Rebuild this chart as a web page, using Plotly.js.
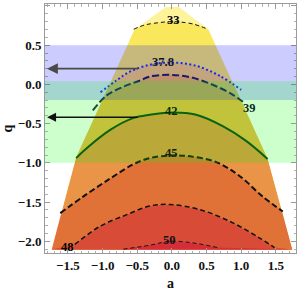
<!DOCTYPE html>
<html><head><meta charset="utf-8">
<script src="https://cdn.plot.ly/plotly-3.0.1.min.js"></script>
<style>html,body{margin:0;padding:0;background:#fff}#c{width:300px;height:291px}</style>
</head><body><div id="c"></div>
<script>
// Region boundary (coarse polygon)
const boundaryA = [-1.734, -1.384, -0.535, -0.089, 0.102, 0.53, 1.383, 1.738];
const boundaryQ = [-2.104, -0.934, 0.707, 0.987, 0.987, 0.704, -0.95, -2.104];

// Contour curves
const c33A  = [-0.55, -0.39, -0.18, -0.03, 0.11, 0.30, 0.52];
const c33Q  = [0.704, 0.758, 0.788, 0.800, 0.796, 0.771, 0.704];
const c378A = [-1.03, -0.80, -0.61, -0.32, 0.02, 0.35, 0.69, 1.00];
const c378Q = [-0.10, 0.05, 0.16, 0.25, 0.279, 0.237, 0.109, -0.07];
const c39A  = [-1.14, -0.94, -0.70, -0.46, -0.32, -0.03, 0.26, 0.59, 0.88, 1.05];
const c39Q  = [-0.33, -0.14, -0.03, 0.05, 0.10, 0.122, 0.093, -0.005, -0.132, -0.238];
const c42A  = [-1.38, -1.25, -0.89, -0.56, -0.32, 0.02, 0.35, 0.74, 1.07, 1.38];
const c42Q  = [-0.94, -0.83, -0.58, -0.43, -0.387, -0.357, -0.387, -0.535, -0.72, -0.95];
const c45A  = [-1.61, -1.28, -0.89, -0.56, -0.32, 0.00, 0.26, 0.64, 0.98, 1.31, 1.60];
const c45Q  = [-1.64, -1.43, -1.20, -1.02, -0.94, -0.905, -0.917, -0.99, -1.17, -1.43, -1.62];
const c48A  = [-1.40, -1.04, -0.65, -0.32, -0.03, 0.40, 0.88, 1.26, 1.48];
const c48Q  = [-2.04, -1.81, -1.66, -1.55, -1.53, -1.595, -1.765, -1.955, -2.08];
const c50A  = [-0.70, -0.32, -0.03, 0.30, 0.66];
const c50Q  = [-2.10, -2.05, -2.00, -2.02, -2.08];

const levels = ['33', '37.8', '39', '42', '45', '48', '50'];

// Contour labels
const labelA = [0.016, -0.13, 1.12, -0.01, -0.01, -1.50, -0.03];
const labelQ = [0.822, 0.29, -0.30, -0.345, -0.874, -2.07, -1.98];
const labelText = ['33', '37.8', '39', '42', '45', '48', '50'];

// Shaded q-bands
const bandBlue = [-0.2, 0.5];
const bandGreen = [-1.0, 0.04];

// Arrows (q levels, tail a, head a)
const arrowQ = [0.2, -0.42];
const arrowTailA = [-0.47, -0.47];
const arrowHeadA = [-1.80, -1.80];

const xRange = [-1.83, 1.79];
const yRange = [-2.149, 1.025];

// styling
const serif = 'Liberation Serif, Times New Roman, serif';
const fillTop = '#fdf39a';
const bandFill = ['#f9e75c', '#f6cd5c', '#f2b54a', '#e99446', '#e07238', '#d74b37', '#d52e3a'];
const lineStyle = [
  {color: '#111', width: 1, dash: '4px,3px'},
  {color: '#1f2ff5', width: 2, dash: '2px,2.4px'},
  {color: '#1b2440', width: 2, dash: '7px,3px'},
  {color: '#0b3d12', width: 2, dash: 'solid'},
  {color: '#111', width: 2, dash: '6px,3px'},
  {color: '#111', width: 1.5, dash: '5px,3px'},
  {color: '#111', width: 1, dash: '4px,3px'}
];
const labelColor = ['#000', '#10102e', '#0e2a1a', '#082a0c', '#141f0c', '#000', '#111'];

const curves = [[c33A, c33Q], [c378A, c378Q], [c39A, c39Q], [c42A, c42Q], [c45A, c45Q], [c48A, c48Q], [c50A, c50Q]];

const rightIdx = [], leftIdx = [];
boundaryA.forEach((a, i) => { if (a > 0) rightIdx.push(i); else leftIdx.push(i); });
rightIdx.sort((i, j) => boundaryQ[j] - boundaryQ[i]);
leftIdx.sort((i, j) => boundaryQ[i] - boundaryQ[j]);

const traces = [];
traces.push({x: boundaryA.concat([boundaryA[0]]), y: boundaryQ.concat([boundaryQ[0]]), mode: 'lines', fill: 'toself',
  fillcolor: fillTop, line: {width: 0}, hoverinfo: 'skip', showlegend: false});
curves.forEach((c, k) => {
  const [ca, cq] = c;
  const xs = ca.slice(), ys = cq.slice();
  const qR = cq[cq.length - 1], qL = cq[0];
  rightIdx.forEach(i => { if (boundaryQ[i] < qR) { xs.push(boundaryA[i]); ys.push(boundaryQ[i]); } });
  leftIdx.forEach(i => { if (boundaryQ[i] < qL) { xs.push(boundaryA[i]); ys.push(boundaryQ[i]); } });
  xs.push(ca[0]); ys.push(cq[0]);
  traces.push({x: xs, y: ys, mode: 'lines', fill: 'toself', fillcolor: bandFill[k], line: {width: 0},
    hoverinfo: 'skip', showlegend: false});
});
(function () {
  const n = boundaryA.length;
  const xs = [xRange[0], xRange[0], xRange[1], xRange[1], boundaryA[n - 1]];
  const ys = [yRange[0], yRange[1], yRange[1], yRange[0], yRange[0]];
  for (let i = n - 1; i >= 0; i--) { xs.push(boundaryA[i]); ys.push(boundaryQ[i]); }
  xs.push(boundaryA[0], xRange[0]); ys.push(yRange[0], yRange[0]);
  traces.push({x: xs, y: ys, mode: 'lines', fill: 'toself', fillcolor: '#ffffff', line: {width: 0},
    hoverinfo: 'skip', showlegend: false});
})();
curves.forEach((c, k) => {
  traces.push({x: c[0], y: c[1], mode: 'lines', line: Object.assign({shape: 'spline', smoothing: 1}, lineStyle[k]),
    hoverinfo: 'skip', showlegend: false, name: levels[k]});
});

const tickFont = {family: serif, size: 13, color: '#111', weight: 700};
const axisCommon = {
  showline: true, linecolor: '#9a9a9a', linewidth: 1, mirror: 'ticks',
  ticks: 'inside', ticklen: 5, tickcolor: '#9a9a9a', tickwidth: 1,
  dtick: 0.5, tick0: 0, tickformat: '.1f', showgrid: false, zeroline: false,
  minor: {ticks: 'inside', ticklen: 2.5, dtick: 0.1, tick0: 0, tickcolor: '#b0b0b0', showgrid: false},
  tickfont: tickFont
};

const labelAnn = labelText.map((t, i) => ({
  x: labelA[i], y: labelQ[i], xref: 'x', yref: 'y', text: '<b>' + t + '</b>', showarrow: false,
  font: {family: serif, size: 12.5, color: labelColor[i], weight: 700}, xanchor: 'center', yanchor: 'middle'
}));
const arrowAnn = arrowQ.map((q, i) => ({
  x: arrowHeadA[i], y: q, ax: arrowTailA[i], ay: q, xref: 'x', yref: 'y', axref: 'x', ayref: 'y',
  text: '', showarrow: true, arrowhead: 2, arrowsize: 1.2, arrowwidth: i === 0 ? 1.8 : 1.5,
  arrowcolor: i === 0 ? '#4a4a4a' : '#111'
}));

const layout = {
  width: 300, height: 291,
  margin: {l: 45, r: 4, t: 4, b: 38},
  paper_bgcolor: '#fff', plot_bgcolor: '#fff',
  showlegend: false,
  xaxis: Object.assign({}, axisCommon, {range: xRange,
    title: {text: '<b>a</b>', font: {family: serif, size: 14, color: '#111', weight: 700}, standoff: 6}}),
  yaxis: Object.assign({}, axisCommon, {range: yRange,
    title: {text: '<b>q</b>', font: {family: serif, size: 14, color: '#111', weight: 700}, standoff: 8}}),
  shapes: [
    {type: 'rect', xref: 'paper', x0: 0, x1: 1, yref: 'y', y0: bandBlue[0], y1: bandBlue[1],
      fillcolor: 'rgba(0,0,255,0.2)', line: {width: 0}, layer: 'above'},
    {type: 'rect', xref: 'paper', x0: 0, x1: 1, yref: 'y', y0: bandGreen[0], y1: bandGreen[1],
      fillcolor: 'rgba(0,255,0,0.2)', line: {width: 0}, layer: 'above'}
  ],
  annotations: arrowAnn.concat(labelAnn)
};

Plotly.newPlot('c', traces, layout, {staticPlot: true, displayModeBar: false});
</script></body></html>
